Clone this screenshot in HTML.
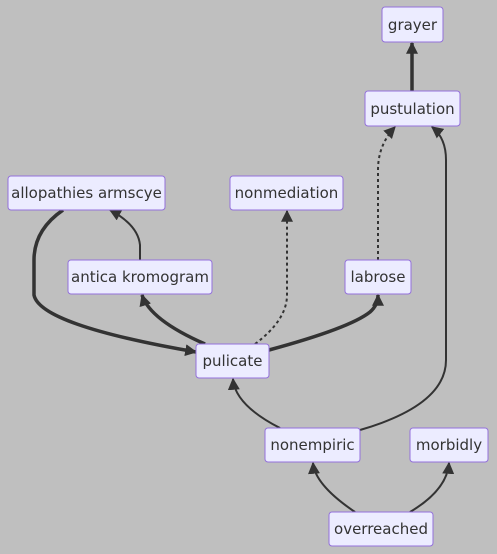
<!DOCTYPE html>
<html><head><meta charset="utf-8"><style>
html,body{margin:0;padding:0;background:#bfbfbf;}
svg{display:block;}
text{font-family:"DejaVu Sans","Liberation Sans",sans-serif;font-size:15px;fill:#333;}
rect{fill:#ececff;stroke:#9370db;stroke-width:1;}
path{fill:none;stroke:#333;}
</style></head><body>
<svg width="497" height="554" viewBox="0 0 497 554" xmlns="http://www.w3.org/2000/svg">
<defs>
<marker id="a" viewBox="0 0 10 10" refX="9" refY="5" markerWidth="6" markerHeight="6" markerUnits="userSpaceOnUse" orient="auto"><path d="M0,0L10,5L0,10z" style="fill:#333;stroke:none"/></marker>
<marker id="b" viewBox="0 0 10 10" refX="9" refY="5" markerWidth="12" markerHeight="12" markerUnits="userSpaceOnUse" orient="auto"><path d="M0,0L10,5L0,10z" style="fill:#333;stroke:none"/></marker>
</defs>
<g marker-end="url(#b)">
<path d="M412,91 L412,43" stroke-width="3.5"/>
<path d="M378,260 L378,170 Q378,145 395,127" stroke-width="2" stroke-dasharray="3,3"/>
<path d="M360,430 Q446,405 446,360 L446,160 Q446,138 432,127" stroke-width="2"/>
<path d="M63,210 Q34,230 34,260 L34,295 Q40,325 196,352" stroke-width="3.5"/>
<path d="M140,260 L140,245 Q138,225 110,210" stroke-width="2"/>
<path d="M205,344 Q150,320 142,295" stroke-width="3.5"/>
<path d="M255,344 Q287,320 287,295 L287,211" stroke-width="2" stroke-dasharray="3,3"/>
<path d="M269,350 Q350,328 370,312 Q378,305 378,295" stroke-width="3.5"/>
<path d="M280,428 Q235,405 233,379" stroke-width="2"/>
<path d="M355,512 Q315,485 313,463" stroke-width="2"/>
<path d="M410,512 Q447,490 449,463" stroke-width="2"/>
</g>
<rect x="382" y="7" width="61" height="35" rx="3"/><text x="412.5" y="30" text-anchor="middle">grayer</text>
<rect x="365" y="91" width="95" height="35" rx="3"/><text x="412.5" y="114" text-anchor="middle">pustulation</text>
<rect x="8" y="176" width="157" height="34" rx="3"/><text x="86.5" y="198" text-anchor="middle">allopathies armscye</text>
<rect x="230" y="176" width="113" height="34" rx="3"/><text x="286.5" y="198" text-anchor="middle">nonmediation</text>
<rect x="68" y="260" width="144" height="34" rx="3"/><text x="140" y="282" text-anchor="middle">antica kromogram</text>
<rect x="345" y="260" width="66" height="34" rx="3"/><text x="378" y="282" text-anchor="middle">labrose</text>
<rect x="196" y="344" width="73" height="34" rx="3"/><text x="232.5" y="366" text-anchor="middle">pulicate</text>
<rect x="265" y="428" width="95" height="34" rx="3"/><text x="312.5" y="450" text-anchor="middle">nonempiric</text>
<rect x="410" y="428" width="78" height="34" rx="3"/><text x="449" y="450" text-anchor="middle">morbidly</text>
<rect x="329" y="512" width="104" height="34" rx="3"/><text x="381" y="534" text-anchor="middle">overreached</text>
</svg>
</body></html>
